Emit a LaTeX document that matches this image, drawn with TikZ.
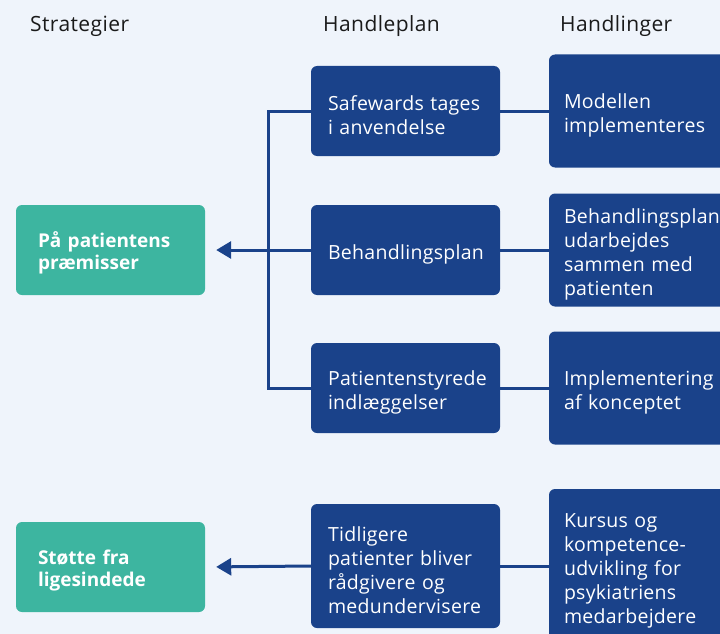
\documentclass[tikz,border=0pt]{standalone}
\usepackage{fontspec}
\setmainfont{Open Sans}
\newfontfamily\widefont[LetterSpace=1.5]{Open Sans}
\newfontfamily\hdrfont[LetterSpace=2]{Open Sans}
\usetikzlibrary{arrows.meta}
\definecolor{bg}{HTML}{EFF4FB}
\definecolor{navy}{HTML}{1A428A}
\definecolor{teal}{HTML}{3DB5A0}
\definecolor{ink}{HTML}{1A1A1A}
\begin{document}
\begin{tikzpicture}[x=1pt,y=-1pt,
  hdr/.style={anchor=base west, inner sep=0pt, text=ink, font=\hdrfont\fontsize{21}{24}\selectfont},
  lowtext/.style={execute at begin node={\rule{0pt}{24pt}}},
  lowgreen/.style={execute at begin node={\rule{0pt}{21pt}}},
  midbox/.style={rounded corners=6pt, fill=navy, text=white, align=left,
    inner xsep=17pt, inner ysep=0pt, text width=155pt, minimum height=90pt,
    font=\widefont\fontsize{19.5}{24}\selectfont, lowtext},
  rbox/.style={rounded corners=6pt, fill=navy, text=white, align=left,
    inner xsep=15pt, inner ysep=0pt, text width=170pt,
    font=\widefont\fontsize{19.5}{24}\selectfont, lowtext},
  gbox/.style={rounded corners=6pt, fill=teal, text=white, align=left,
    inner xsep=22pt, inner ysep=0pt, text width=145pt, minimum height=90pt,
    font=\fontsize{19}{22}\selectfont\bfseries, lowgreen},
  conn/.style={draw=navy, line width=3pt},
  arr/.style={conn, -{Triangle[length=15pt,width=17pt]}, shorten >=11pt}
]
\useasboundingbox[fill=bg] (0,0) rectangle (720,634);

% headers
\node[hdr] (h1) at (30,31.5) {Strategier};
\node[hdr] (h2) at (323,31.5) {Handleplan};
\node[hdr] (h3) at (560,31.5) {Handlinger};

% strategies
\node[gbox] (g1) at (110.5,250) {På patientens\\præmisser};
\node[gbox] (g2) at (110.5,567) {Støtte fra\\ligesindede};

% action plans
\node[midbox] (m1) at (405.5,111) {Safewards tages\\i anvendelse};
\node[midbox] (m2) at (405.5,250) {Behandlingsplan};
\node[midbox] (m3) at (405.5,388) {Patientenstyrede\\indlæggelser};
\node[midbox, minimum height=124pt] (m4) at (405.5,566) {Tidligere\\patienter bliver\\rådgivere og\\medundervisere};

% actions
\node[rbox, minimum height=113pt] (r1) at (649,111) {Modellen\\implementeres};
\node[rbox, minimum height=113pt] (r2) at (649,250) {Behandlingsplan\\udarbejdes\\sammen med\\patienten};
\node[rbox, minimum height=113pt] (r3) at (649,388) {Implementering\\af konceptet};
\node[rbox, minimum height=154pt] (r4) at (649,566) {Kursus og\\kompetence-\\udvikling for\\psykiatriens\\medarbejdere};

% connectors
\coordinate (vx) at (268,0);
\draw[conn] (m1.west) -- (m1.west -| vx) -- (m3.west -| vx) -- (m3.west);
\draw[arr] (m2.west) -- (g1.east);
\draw[arr] (m4.west) -- (g2.east);
\draw[conn] (m1.east) -- (r1.west);
\draw[conn] (m2.east) -- (r2.west);
\draw[conn] (m3.east) -- (r3.west);
\draw[conn] (m4.east) -- (r4.west);
\end{tikzpicture}
\end{document}
